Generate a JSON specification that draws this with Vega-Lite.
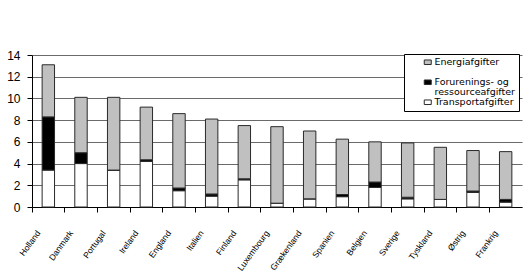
{
  "$schema": "https://vega.github.io/schema/vega-lite/v6.json",
  "width": 490,
  "height": 152,
  "autosize": {"type": "none"},
  "padding": {"left": 32, "top": 55, "right": 7, "bottom": 68},
  "background": "white",
  "config": {"view": {"stroke": null}, "font": "Liberation Sans"},
  "data": {
    "values": [
      {"country": "Holland", "type": "Transportafgifter", "order": 1, "value": 3.4},
      {"country": "Holland", "type": "Forurenings- og ressourceafgifter", "order": 2, "value": 4.9},
      {"country": "Holland", "type": "Energiafgifter", "order": 3, "value": 4.8},
      {"country": "Danmark", "type": "Transportafgifter", "order": 1, "value": 4.0},
      {"country": "Danmark", "type": "Forurenings- og ressourceafgifter", "order": 2, "value": 1.0},
      {"country": "Danmark", "type": "Energiafgifter", "order": 3, "value": 5.1},
      {"country": "Portugal", "type": "Transportafgifter", "order": 1, "value": 3.4},
      {"country": "Portugal", "type": "Forurenings- og ressourceafgifter", "order": 2, "value": 0},
      {"country": "Portugal", "type": "Energiafgifter", "order": 3, "value": 6.7},
      {"country": "Ireland", "type": "Transportafgifter", "order": 1, "value": 4.2},
      {"country": "Ireland", "type": "Forurenings- og ressourceafgifter", "order": 2, "value": 0.15},
      {"country": "Ireland", "type": "Energiafgifter", "order": 3, "value": 4.85},
      {"country": "England", "type": "Transportafgifter", "order": 1, "value": 1.5},
      {"country": "England", "type": "Forurenings- og ressourceafgifter", "order": 2, "value": 0.25},
      {"country": "England", "type": "Energiafgifter", "order": 3, "value": 6.85},
      {"country": "Italien", "type": "Transportafgifter", "order": 1, "value": 1.0},
      {"country": "Italien", "type": "Forurenings- og ressourceafgifter", "order": 2, "value": 0.2},
      {"country": "Italien", "type": "Energiafgifter", "order": 3, "value": 6.9},
      {"country": "Finland", "type": "Transportafgifter", "order": 1, "value": 2.5},
      {"country": "Finland", "type": "Forurenings- og ressourceafgifter", "order": 2, "value": 0.1},
      {"country": "Finland", "type": "Energiafgifter", "order": 3, "value": 4.9},
      {"country": "Luxembourg", "type": "Transportafgifter", "order": 1, "value": 0.35},
      {"country": "Luxembourg", "type": "Forurenings- og ressourceafgifter", "order": 2, "value": 0},
      {"country": "Luxembourg", "type": "Energiafgifter", "order": 3, "value": 7.05},
      {"country": "Grækenland", "type": "Transportafgifter", "order": 1, "value": 0.75},
      {"country": "Grækenland", "type": "Forurenings- og ressourceafgifter", "order": 2, "value": 0},
      {"country": "Grækenland", "type": "Energiafgifter", "order": 3, "value": 6.25},
      {"country": "Spanien", "type": "Transportafgifter", "order": 1, "value": 0.95},
      {"country": "Spanien", "type": "Forurenings- og ressourceafgifter", "order": 2, "value": 0.2},
      {"country": "Spanien", "type": "Energiafgifter", "order": 3, "value": 5.1},
      {"country": "Belgien", "type": "Transportafgifter", "order": 1, "value": 1.8},
      {"country": "Belgien", "type": "Forurenings- og ressourceafgifter", "order": 2, "value": 0.5},
      {"country": "Belgien", "type": "Energiafgifter", "order": 3, "value": 3.7},
      {"country": "Sverige", "type": "Transportafgifter", "order": 1, "value": 0.75},
      {"country": "Sverige", "type": "Forurenings- og ressourceafgifter", "order": 2, "value": 0.15},
      {"country": "Sverige", "type": "Energiafgifter", "order": 3, "value": 5.0},
      {"country": "Tyskland", "type": "Transportafgifter", "order": 1, "value": 0.7},
      {"country": "Tyskland", "type": "Forurenings- og ressourceafgifter", "order": 2, "value": 0},
      {"country": "Tyskland", "type": "Energiafgifter", "order": 3, "value": 4.8},
      {"country": "Østrig", "type": "Transportafgifter", "order": 1, "value": 1.35},
      {"country": "Østrig", "type": "Forurenings- og ressourceafgifter", "order": 2, "value": 0.12},
      {"country": "Østrig", "type": "Energiafgifter", "order": 3, "value": 3.73},
      {"country": "Frankrig", "type": "Transportafgifter", "order": 1, "value": 0.45},
      {"country": "Frankrig", "type": "Forurenings- og ressourceafgifter", "order": 2, "value": 0.25},
      {"country": "Frankrig", "type": "Energiafgifter", "order": 3, "value": 4.4}
    ]
  },
  "mark": {"type": "bar", "width": {"band": 0.38}, "stroke": "#2a2a2a", "strokeWidth": 1},
  "encoding": {
    "x": {
      "field": "country",
      "type": "nominal",
      "sort": null,
      "scale": {"paddingInner": 0, "paddingOuter": 0},
      "axis": {
        "title": null,
        "bandPosition": 0,
        "labelOffset": -10,
        "labelAngle": -54,
        "labelAlign": "right",
        "labelBaseline": "middle",
        "labelFontSize": 8.5,
        "labelColor": "#000000",
        "labelPadding": 19,
        "tickSize": 5,
        "tickColor": "#000000",
        "domainColor": "#000000"
      }
    },
    "y": {
      "field": "value",
      "type": "quantitative",
      "stack": "zero",
      "scale": {"domain": [0, 14], "nice": false},
      "axis": {
        "title": null,
        "values": [0, 2, 4, 6, 8, 10, 12, 14],
        "grid": true,
        "gridColor": "#6a6a6a",
        "gridOpacity": 1,
        "labelFontSize": 12,
        "labelColor": "#000000",
        "labelPadding": 7,
        "tickSize": 5,
        "tickColor": "#000000",
        "domainColor": "#000000"
      }
    },
    "color": {
      "field": "type",
      "type": "nominal",
      "scale": {
        "domain": ["Energiafgifter", "Forurenings- og ressourceafgifter", "Transportafgifter"],
        "range": ["#c0c0c0", "#000000", "#ffffff"]
      },
      "legend": {
        "title": null,
        "orient": "none",
        "legendX": 372,
        "legendY": -1,
        "strokeColor": "#000000",
        "fillColor": "#ffffff",
        "padding": 3.5,
        "symbolType": "M-1,-0.65H1V0.65H-1Z",
        "symbolSize": 49,
        "symbolOffset": 15.5,
        "symbolStrokeColor": "#2a2a2a",
        "symbolStrokeWidth": 1,
        "labelOffset": 2,
        "labelFont": "DejaVu Sans",
        "labelFontSize": 9.5,
        "labelColor": "#000000",
        "rowPadding": 0,
        "labelExpr": "datum.label == 'Forurenings- og ressourceafgifter' ? ['Forurenings-  og', 'ressourceafgifter     '] : datum.label == 'Energiafgifter' ? ['Energiafgifter', ' '] : datum.label",
        "encode": {"labels": {"update": {"lineHeight": {"value": 9.6}}}}
      }
    },
    "order": {"field": "order", "type": "quantitative"}
  }
}
